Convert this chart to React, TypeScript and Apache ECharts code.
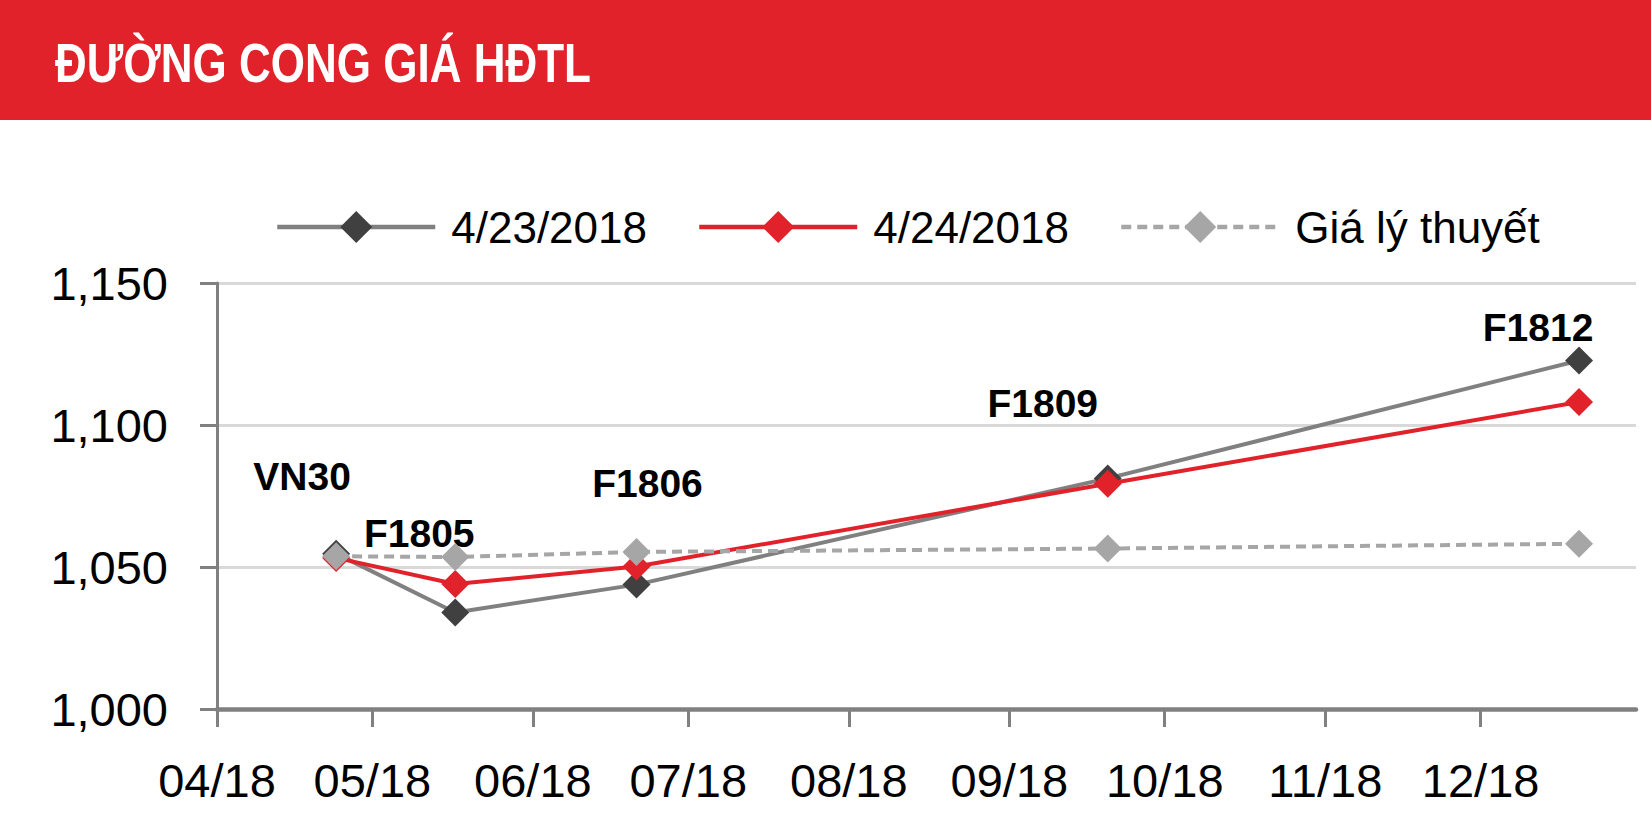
import React, { useEffect, useRef } from "react";
import * as echarts from "echarts";

const contractDates = ["2018-04-24", "2018-05-17", "2018-06-21", "2018-09-20", "2018-12-20"];
const contractNames = ["VN30", "F1805", "F1806", "F1809", "F1812"];
const price0423 = [1054.7, 1034.0, 1043.8, 1081.2, 1122.7];
const price0424 = [1053.2, 1044.0, 1050.2, 1079.3, 1108.1];
const theoreticalPrice = [1053.8, 1053.5, 1055.3, 1056.5, 1058.2];
const seriesNames = ["4/23/2018", "4/24/2018", "Giá lý thuyết"];
const labelOffsets: [number, number][] = [[-34, -77], [-36, -79], [11, -101], [-65, -75], [-41, -33]];
const titleText = "ĐƯỜNG CONG GIÁ HĐTL";

const FONT = "'Liberation Sans Narrow', 'Arial Narrow', 'Liberation Sans', Arial, sans-serif";
const RED = "#E1222B";

export default function App() {
  const ref = useRef<HTMLDivElement>(null);
  useEffect(() => {
    document.body.style.margin = "0";
    if (!ref.current) return;
    const chart = echarts.init(ref.current, null, { renderer: "svg" });
    const mk = (vals: number[], withLabels: boolean) =>
      contractDates.map((d, i) => {
        const item: any = { value: [d, vals[i]] };
        if (withLabels) {
          item.label = {
            show: true,
            position: "inside",
            formatter: contractNames[i],
            offset: labelOffsets[i],
            color: "#000",
            fontFamily: FONT,
            fontWeight: "bold",
            fontSize: 39,
          };
        }
        return item;
      });
    chart.setOption({
      animation: false,
      backgroundColor: "#fff",
      graphic: [
        { type: "rect", x: 0, y: 0, shape: { width: 1651, height: 120 }, style: { fill: RED }, z: 0 },
        {
          type: "text",
          x: 55,
          y: 63,
          scaleX: 0.8,
          style: {
            text: titleText,
            fill: "#fff",
            font: `bold 55px ${FONT}`,
            verticalAlign: "middle",
            align: "left",
          },
          z: 1,
        },
      ],
      legend: {
        left: 275,
        top: 205,
        padding: 0,
        itemWidth: 158,
        itemHeight: 40,
        itemGap: 50,
        data: seriesNames,
        lineStyle: { width: 4.5 },
        textStyle: { fontFamily: FONT, fontSize: 44, color: "#000", padding: [0, 0, 0, 11] },
      },
      grid: { left: 217, right: 15, top: 283, bottom: 120, containLabel: false },
      xAxis: {
        type: "time",
        min: "2018-04-01",
        max: "2018-12-31",
        minInterval: 28 * 86400000,
        maxInterval: 31 * 86400000,
        axisLine: { lineStyle: { color: "#808080", width: 4.5 } },
        axisTick: { show: true, length: 18, lineStyle: { color: "#808080", width: 3 } },
        splitLine: { show: false },
        axisLabel: {
          margin: 48,
          color: "#000",
          fontFamily: FONT,
          fontSize: 47,
          hideOverlap: false,
          formatter: (v: number) => {
            const d = new Date(v);
            const m = String(d.getMonth() + 1).padStart(2, "0");
            const y = String(d.getFullYear()).slice(2);
            return `${m}/${y}`;
          },
        },
      },
      yAxis: {
        type: "value",
        min: 1000,
        max: 1150,
        interval: 50,
        axisLine: { show: true, lineStyle: { color: "#808080", width: 3 } },
        axisTick: { show: true, length: 17, lineStyle: { color: "#808080", width: 3 } },
        splitLine: { lineStyle: { color: "#d9d9d9", width: 3 } },
        axisLabel: {
          margin: 49,
          color: "#000",
          fontFamily: FONT,
          fontSize: 47,
          formatter: (v: number) => v.toLocaleString("en-US"),
        },
      },
      series: [
        {
          name: seriesNames[0],
          type: "line",
          data: mk(price0423, true),
          symbol: "diamond",
          symbolSize: 28,
          lineStyle: { color: "#808080", width: 4 },
          itemStyle: { color: "#404040" },
          z: 2,
        },
        {
          name: seriesNames[1],
          type: "line",
          data: mk(price0424, false),
          symbol: "diamond",
          symbolSize: 28,
          lineStyle: { color: RED, width: 4 },
          itemStyle: { color: RED },
          z: 3,
        },
        {
          name: seriesNames[2],
          type: "line",
          data: mk(theoreticalPrice, false),
          symbol: "diamond",
          symbolSize: 28,
          lineStyle: { color: "#A6A6A6", width: 4, type: [10, 6] },
          itemStyle: { color: "#A6A6A6" },
          z: 4,
        },
      ],
    });
    return () => chart.dispose();
  }, []);
  return <div ref={ref} style={{ width: 1651, height: 829 }} />;
}
